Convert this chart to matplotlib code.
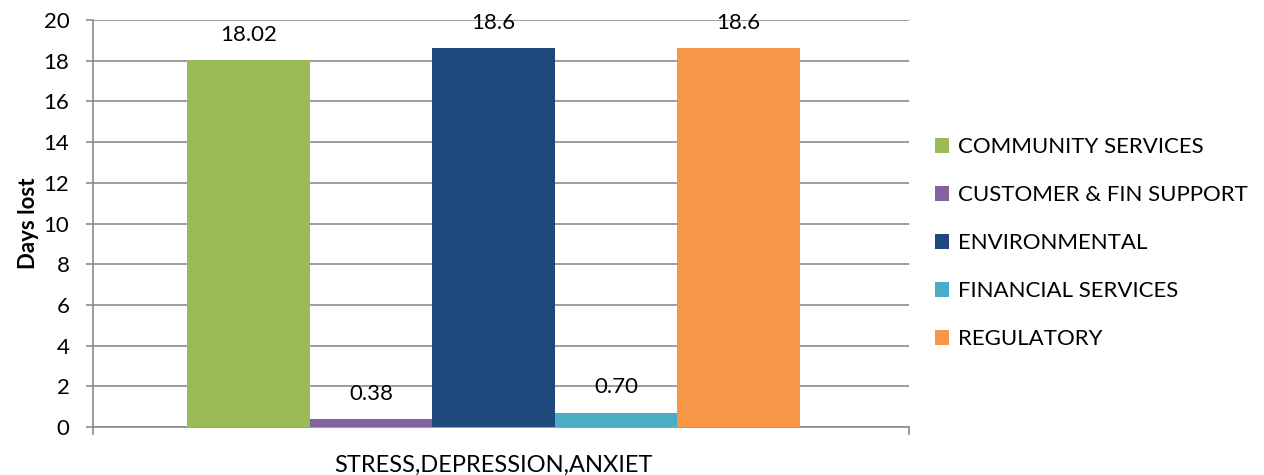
import matplotlib.pyplot as plt

# data
category = "STRESS,DEPRESSION,ANXIET"
series = ["COMMUNITY SERVICES", "CUSTOMER & FIN SUPPORT", "ENVIRONMENTAL",
          "FINANCIAL SERVICES", "REGULATORY"]
values = [18.02, 0.38, 18.6, 0.70, 18.6]
labels = ["18.02", "0.38", "18.6", "0.70", "18.6"]
colors = ["#9BBB59", "#8064A2", "#1F497D", "#4BACC6", "#F79646"]

plt.rcParams['font.family'] = ['Lato', 'DejaVu Sans']

fig = plt.figure(figsize=(12.64, 4.75), dpi=100)
ax = fig.add_axes([93 / 1264, 48 / 475, 816 / 1264, 407 / 475])

xs = range(len(values))
for x, v, c, name, lab in zip(xs, values, colors, series, labels):
    ax.bar(x, v, width=1.0, color=c, label=name, zorder=3)
    ax.annotate(lab, (x, v), xytext=(0, 11), textcoords="offset points",
                ha="center", va="bottom", fontsize=16)

ax.set_xlim(-1.267, 5.389)
ax.set_ylim(0, 20)
ax.set_yticks(range(0, 21, 2))
ax.yaxis.grid(True, color="#8c8c8c", lw=1.2, zorder=0)
ax.tick_params(axis="y", labelsize=16, length=5, width=1.2, color="#8c8c8c",
               pad=12)

ax.set_xticks([2])
ax.set_xticklabels([category], fontsize=17)
ax.tick_params(axis="x", length=0, pad=20)
ax.set_xticks([-1.267, 5.389], minor=True)
ax.tick_params(axis="x", which="minor", length=6, width=1.2, color="#8c8c8c")

for s in ["top", "right"]:
    ax.spines[s].set_visible(False)
for s in ["left", "bottom"]:
    ax.spines[s].set_color("#8c8c8c")
    ax.spines[s].set_linewidth(1.2)

ax.set_ylabel("Days lost", fontsize=16, fontweight="bold", labelpad=3)

fig.legend(loc="center left", bbox_to_anchor=(926 / 1264, 232 / 475),
           frameon=False, fontsize=16, handlelength=0.65, handleheight=0.65,
           handletextpad=0.4, labelspacing=1.26, borderaxespad=0)

fig.savefig("out.png", dpi=100)
